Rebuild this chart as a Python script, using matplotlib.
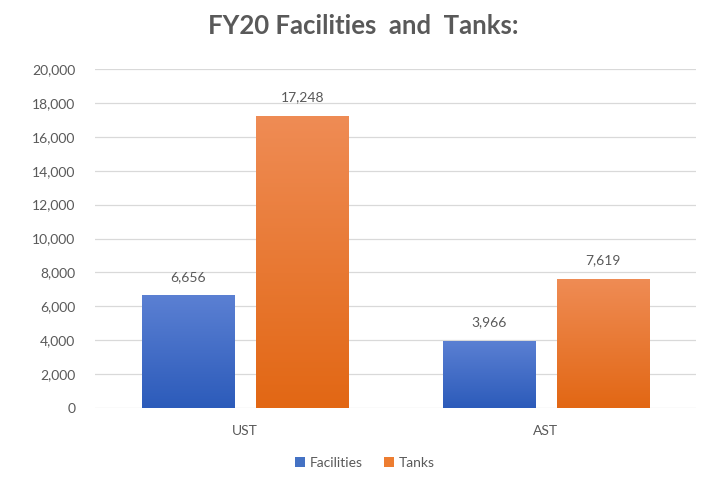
import matplotlib
matplotlib.use("Agg")
import matplotlib.pyplot as plt
import numpy as np
from matplotlib.colors import LinearSegmentedColormap

categories = ["UST", "AST"]
series_names = ["Facilities", "Tanks"]
facilities = [6656, 3966]
tanks = [17248, 7619]
yticks = [0, 2000, 4000, 6000, 8000, 10000, 12000, 14000, 16000, 18000, 20000]

plt.rcParams['font.family'] = ['Lato', 'DejaVu Sans']
text_color = "#595959"

fig = plt.figure(figsize=(7.02, 4.79), dpi=100)
ax = fig.add_axes([0.135, 0.148, 0.857, 0.708])

x = np.arange(len(categories))
width = 0.308
offset = 0.19

grads = {
    "Facilities": ("#5B80D3", "#2C5BBA"),
    "Tanks": ("#EF8C55", "#E26714"),
}
base = {"Facilities": "#4472C4", "Tanks": "#ED7D31"}

for name, vals, off in [("Facilities", facilities, -offset), ("Tanks", tanks, offset)]:
    bars = ax.bar(x + off, vals, width, color=base[name], label=name, zorder=2)
    cmap = LinearSegmentedColormap.from_list(name, [grads[name][1], grads[name][0]])
    for b in bars:
        x0, y0 = b.get_x(), b.get_y()
        w, h = b.get_width(), b.get_height()
        grad = np.linspace(0, 1, 256).reshape(-1, 1)
        im = ax.imshow(grad, cmap=cmap, aspect='auto', origin='lower',
                       extent=[x0, x0 + w, y0, y0 + h], zorder=3)
        im.set_clip_path(b)
        ax.annotate(f"{int(h):,}", (x0 + w / 2, h), xytext=(0, 9),
                    textcoords="offset points", ha="center", va="bottom",
                    fontsize=10, color=text_color, zorder=4)

ax.set_xlim(-0.5, 1.5)
ax.set_ylim(0, 20000)
ax.set_yticks(yticks)
ax.set_yticklabels([f"{v:,}" for v in yticks])
ax.set_xticks(x)
ax.set_xticklabels(categories)
ax.tick_params(axis='both', length=0, colors=text_color, labelsize=10)
ax.tick_params(axis='y', pad=14)
ax.tick_params(axis='x', pad=12)
ax.grid(axis='y', color="#D9D9D9", linewidth=0.9, zorder=0)
ax.set_axisbelow(True)
for s in ax.spines.values():
    s.set_visible(False)

fig.text(0.518, 0.945, "FY20 Facilities  and  Tanks:", ha="center", va="center",
         fontsize=18.5, fontweight='bold', color=text_color)

handles, labels = ax.get_legend_handles_labels()
leg = fig.legend(handles, labels, loc="lower center", bbox_to_anchor=(0.52, -0.005),
                 ncol=2, frameon=False, fontsize=10, handlelength=0.7,
                 handleheight=0.7, handletextpad=0.4, columnspacing=1.5,
                 labelcolor=text_color)

fig.savefig("out.png", dpi=100)
